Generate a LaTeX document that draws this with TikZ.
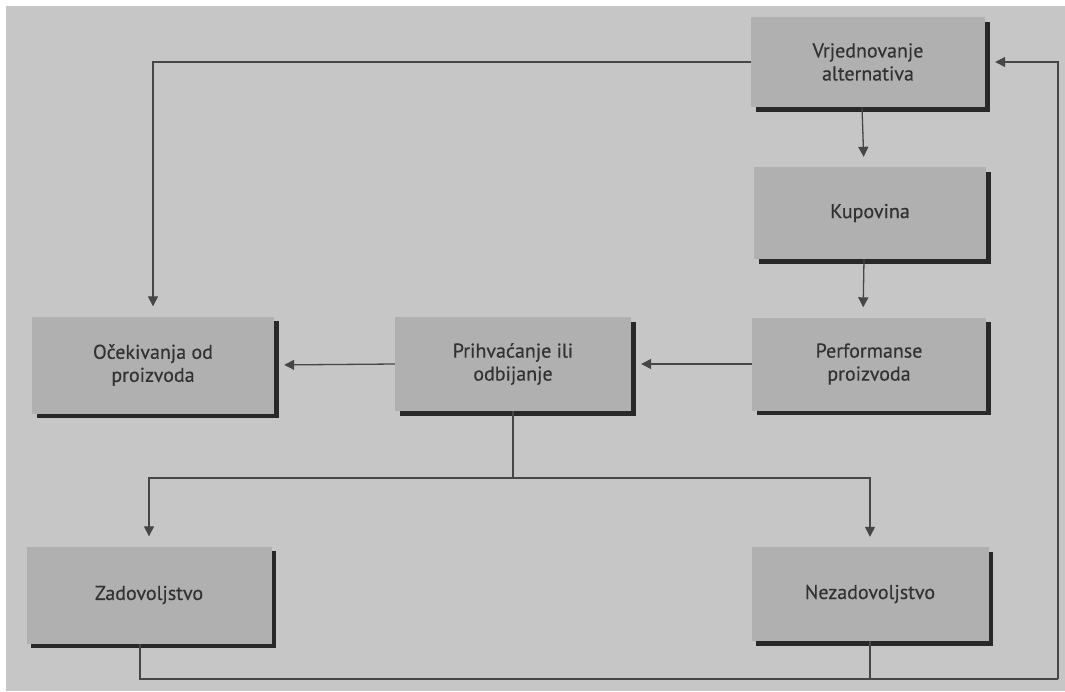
\documentclass[tikz,border=0pt]{standalone}
\usepackage{fontspec}
\setmainfont{PT Sans}[FakeBold=0.4]
\usetikzlibrary{arrows.meta,shadows}
\definecolor{bg}{RGB}{198,198,198}
\definecolor{boxc}{RGB}{176,176,176}
\definecolor{shad}{RGB}{40,40,40}
\definecolor{ln}{RGB}{70,70,70}
\definecolor{txt}{RGB}{50,50,50}
\begin{document}
\begin{tikzpicture}[x=1pt,y=-1pt,
  stage/.style={rectangle, fill=boxc, text=txt, align=center, inner sep=0pt,
    font=\fontsize{20}{23}\selectfont,
    drop shadow={shadow xshift=4.5pt, shadow yshift=-4.5pt, fill=shad, opacity=1}},
  conn/.style={draw=ln, line width=1.3pt},
  arr/.style={conn, -{Triangle[length=10pt,width=10pt]}, shorten >=10pt}]
\useasboundingbox (0,0) rectangle (1065,691);
\fill[white] (0,0) rectangle (1065,691);
\fill[bg] (6,6) rectangle (1065,691);

\node[stage, minimum width=234pt, minimum height=90pt] (V) at (868,62) {Vrjednovanje\\alternativa};
\node[stage, minimum width=232pt, minimum height=92pt] (K) at (870,213) {Kupovina};
\node[stage, minimum width=234pt, minimum height=93pt] (P) at (869,364) {Performanse\\proizvoda};
\node[stage, minimum width=236pt, minimum height=94pt] (A) at (513,364) {Prihvaćanje ili\\odbijanje};
\node[stage, minimum width=242pt, minimum height=97pt] (O) at (153,365) {Očekivanja od\\proizvoda};
\node[stage, minimum width=245pt, minimum height=97pt] (Z) at (149,595) {Zadovoljstvo};
\node[stage, minimum width=237pt, minimum height=94pt] (N) at (870,594) {Nezadovoljstvo};

\coordinate (j) at (513,478);
\coordinate (c) at (1058,679);

\draw[arr] (V.west) -| (O.north);
\draw[arr] ([xshift=-6pt]V.south) -- ([xshift=-6pt]K.north);
\draw[arr] ([xshift=-6pt]K.south) -- ([xshift=-6pt]P.north);
\draw[arr] (P.west) -- (A.east);
\draw[arr] (A.west) -- (O.east);
\draw[conn] (A.south) -- (j);
\draw[arr] (j) -| (Z.north);
\draw[arr] (j) -| (N.north);
\draw[conn] ([xshift=-9pt]Z.south) |- (c);
\draw[arr] (c) |- (V.east);
\draw[conn] (N.south) -- (N.south |- c);
\end{tikzpicture}
\end{document}
